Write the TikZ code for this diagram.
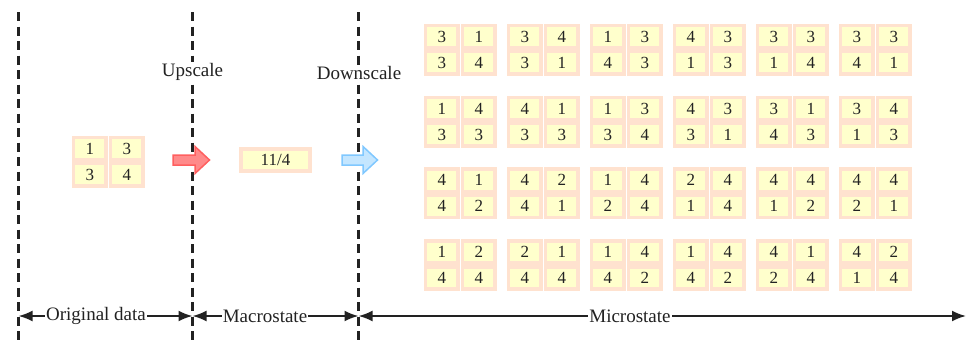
\documentclass[tikz,border=0pt]{standalone}
\usepackage{fontspec}
\setmainfont{Liberation Serif}
\usetikzlibrary{arrows.meta}
\definecolor{cellborder}{HTML}{FFE2CF}
\definecolor{cellfill}{HTML}{FFFFCC}
\definecolor{redfill}{HTML}{FF8A8A}
\definecolor{reddraw}{HTML}{FF5F5F}
\definecolor{bluefill}{HTML}{C4E6FF}
\definecolor{bluedraw}{HTML}{80C8FF}
\definecolor{ink}{HTML}{222222}
\begin{document}
\begin{tikzpicture}[x=1pt,y=-1pt,
  cellbox/.style={draw=cellborder,fill=cellfill,line width=3.6pt,inner sep=0pt,
    minimum width=32.4pt,minimum height=22.4pt,anchor=north west,
    font=\fontsize{17}{17}\selectfont,text=ink},
  widebox/.style={cellbox,minimum width=69.4pt},
  divider/.style={draw=ink,line width=2.2pt,dash pattern=on 9pt off 5.5pt},
  lbl/.style={font=\fontsize{19}{19}\selectfont,text=ink,fill=white,inner sep=1pt},
  span/.style={draw=ink,line width=2pt,{Latex[length=14pt,width=11pt]}-{Latex[length=14pt,width=11pt]}},
  bigarrow/.style={line width=1.5pt,line join=miter}]
\useasboundingbox (0,0) rectangle (966,343);
% dashed dividers
\coordinate (d1t) at (18.5,12); \coordinate (d1b) at (18.5,342);
\coordinate (d2t) at (192.5,12); \coordinate (d2b) at (192.5,342);
\coordinate (d3t) at (358.5,12); \coordinate (d3b) at (358.5,342);
\draw[divider] (d1t) -- (d1b);
\draw[divider] (d2t) -- (d2b);
\draw[divider] (d3t) -- (d3b);
\node[lbl] (up) at (192.5,72) {Upscale};
\node[lbl] (down) at (359,73) {Downscale};
% original data
\node[cellbox] (o1) at (71.8,135.8) {1};
\node[cellbox] (o2) at (108.8,135.8) {3};
\node[cellbox] (o3) at (71.8,161.8) {3};
\node[cellbox] (o4) at (108.8,161.8) {4};
% block arrows
\draw[bigarrow,fill=redfill,draw=reddraw]
  (173,155) -- (195,155) -- (195,146.5) -- (209.5,160) -- (195,173.5) -- (195,165) -- (173,165) -- cycle;
\node[widebox,anchor=center] (macro) at (275.5,160) {11/4};
\draw[bigarrow,fill=bluefill,draw=bluedraw]
  (342,155) -- (363,155) -- (363,146.5) -- (377.5,160) -- (363,173.5) -- (363,165) -- (342,165) -- cycle;
% microstates
\foreach \row/\list in {0/{3/1/3/4,3/4/3/1,1/3/4/3,4/3/1/3,3/3/1/4,3/3/4/1},
                        1/{1/4/3/3,4/1/3/3,1/3/3/4,4/3/3/1,3/1/4/3,3/4/1/3},
                        2/{4/1/4/2,4/2/4/1,1/4/2/4,2/4/1/4,4/4/1/2,4/4/2/1},
                        3/{1/2/4/4,2/1/4/4,1/4/4/2,1/4/4/2,4/1/2/4,4/2/1/4}}{
  \foreach \a/\b/\c/\d [count=\col from 0] in \list {
    \pgfmathsetmacro{\gx}{423.8+83*\col}
    \pgfmathsetmacro{\gy}{23.8+71.7*\row}
    \node[cellbox] (m\row-\col-a) at (\gx,\gy) {\a};
    \node[cellbox] (m\row-\col-b) at (\gx+37,\gy) {\b};
    \node[cellbox] (m\row-\col-c) at (\gx,\gy+26) {\c};
    \node[cellbox] (m\row-\col-d) at (\gx+37,\gy+26) {\d};
  }
}
% bottom spans
\coordinate (s1) at (18.5,316);
\coordinate (s2) at (192.5,316);
\coordinate (s3) at (358.5,316);
\coordinate (s4) at (966,316);
\draw[span] (s1) -- (s2);
\draw[span] (s2) -- (s3);
\draw[span] (s3) -- (s4);
\node[lbl] (lo) at (96,316) {Original data};
\node[lbl] (lm) at (265,316) {Macrostate};
\node[lbl] (lmi) at (630,316) {Microstate};
\end{tikzpicture}
\end{document}
